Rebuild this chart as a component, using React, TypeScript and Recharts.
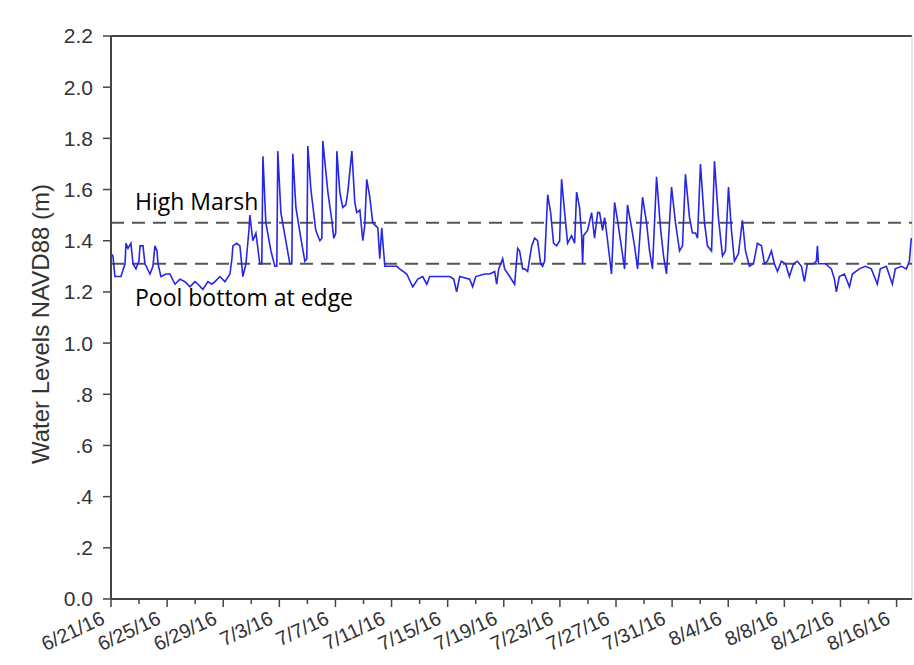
import { LineChart, Line, XAxis, YAxis, ReferenceLine } from 'recharts'

// day offsets from 6/21/16 and water level (m)
const days = [
  0.0, 0.14, 0.28, 0.71, 1.0, 1.07, 1.21, 1.42, 1.57, 1.78, 1.99, 2.07, 2.28, 2.42, 2.78, 2.99, 3.13, 3.28, 3.35, 3.56,
  3.92, 4.2, 4.56, 4.91, 5.27, 5.63, 5.98, 6.2, 6.55, 6.91, 7.19, 7.41, 7.76, 8.12, 8.48, 8.62, 8.69, 8.97, 9.19, 9.4,
  9.62, 9.83, 9.9, 10.11, 10.33, 10.61, 10.75, 10.83, 11.04, 11.4, 11.68, 11.82, 11.89, 12.11, 12.46, 12.75, 12.89, 12.96, 13.18, 13.53,
  13.82, 13.96, 14.03, 14.25, 14.6, 14.89, 15.03, 15.1, 15.46, 15.74, 15.88, 16.02, 16.1, 16.31, 16.52, 16.74, 16.88, 17.17, 17.38, 17.52,
  17.74, 17.95, 18.09, 18.23, 18.45, 18.66, 19.02, 19.16, 19.3, 19.52, 20.37, 20.58, 21.08, 21.51, 21.87, 22.22, 22.51, 22.72, 23.43, 24.15,
  24.43, 24.64, 24.86, 25.57, 25.78, 26.0, 26.64, 27.0, 27.35, 27.49, 27.64, 27.92, 28.06, 28.42, 28.77, 28.99, 29.13, 29.34, 29.49, 29.7,
  29.99, 30.2, 30.41, 30.63, 30.77, 30.91, 31.13, 31.34, 31.55, 31.77, 31.98, 32.12, 32.34, 32.55, 32.83, 33.05, 33.19, 33.4, 33.55, 33.62,
  33.69, 33.97, 34.26, 34.47, 34.69, 34.83, 35.04, 35.19, 35.4, 35.68, 35.9, 36.11, 36.32, 36.61, 36.82, 37.11, 37.32, 37.54, 37.89, 38.18,
  38.39, 38.6, 38.89, 39.17, 39.39, 39.6, 39.96, 40.24, 40.53, 40.74, 40.95, 41.24, 41.45, 41.67, 41.81, 42.02, 42.31, 42.52, 42.81, 43.02,
  43.3, 43.59, 43.8, 44.02, 44.23, 44.44, 44.73, 45.01, 45.23, 45.51, 45.8, 46.08, 46.37, 46.58, 46.79, 47.08, 47.29, 47.51, 47.79, 48.08,
  48.36, 48.65, 48.93, 49.22, 49.43, 49.64, 50.07, 50.28, 50.36, 50.43, 50.93, 51.35, 51.57, 51.71, 51.92, 52.28, 52.64, 52.85, 53.35, 53.77,
  54.2, 54.63, 54.84, 55.27, 55.7, 55.91, 56.34, 56.7, 56.91, 57.05,
]

const levels = [
  1.35, 1.34, 1.26, 1.26, 1.31, 1.39, 1.37, 1.39, 1.31, 1.29, 1.32, 1.38, 1.38, 1.31, 1.27, 1.3, 1.38, 1.36, 1.31, 1.26,
  1.27, 1.27, 1.23, 1.25, 1.24, 1.22, 1.24, 1.23, 1.21, 1.24, 1.23, 1.24, 1.26, 1.24, 1.27, 1.33, 1.38, 1.39, 1.38, 1.26,
  1.31, 1.44, 1.5, 1.4, 1.43, 1.31, 1.31, 1.73, 1.47, 1.36, 1.3, 1.3, 1.75, 1.51, 1.4, 1.31, 1.31, 1.74, 1.53, 1.41,
  1.32, 1.33, 1.77, 1.6, 1.44, 1.4, 1.41, 1.79, 1.59, 1.48, 1.41, 1.43, 1.75, 1.59, 1.53, 1.54, 1.59, 1.75, 1.55, 1.51,
  1.52, 1.4, 1.46, 1.64, 1.57, 1.47, 1.45, 1.33, 1.45, 1.3, 1.3, 1.29, 1.27, 1.22, 1.25, 1.26, 1.23, 1.26, 1.26, 1.26,
  1.25, 1.2, 1.26, 1.25, 1.22, 1.26, 1.27, 1.27, 1.28, 1.23, 1.29, 1.33, 1.29, 1.26, 1.23, 1.37, 1.36, 1.29, 1.29, 1.28,
  1.38, 1.41, 1.4, 1.31, 1.3, 1.32, 1.58, 1.51, 1.39, 1.38, 1.4, 1.64, 1.51, 1.39, 1.42, 1.39, 1.59, 1.53, 1.42, 1.31,
  1.42, 1.44, 1.51, 1.41, 1.51, 1.51, 1.44, 1.49, 1.4, 1.27, 1.55, 1.48, 1.4, 1.29, 1.54, 1.45, 1.38, 1.29, 1.57, 1.47,
  1.36, 1.29, 1.65, 1.45, 1.34, 1.27, 1.61, 1.47, 1.36, 1.38, 1.66, 1.49, 1.43, 1.43, 1.41, 1.7, 1.47, 1.38, 1.36, 1.71,
  1.49, 1.34, 1.36, 1.61, 1.44, 1.32, 1.35, 1.48, 1.36, 1.3, 1.31, 1.39, 1.38, 1.31, 1.32, 1.36, 1.31, 1.28, 1.32, 1.31,
  1.26, 1.31, 1.32, 1.3, 1.24, 1.31, 1.31, 1.32, 1.38, 1.31, 1.31, 1.29, 1.25, 1.2, 1.26, 1.27, 1.22, 1.27, 1.29, 1.3,
  1.29, 1.23, 1.29, 1.3, 1.23, 1.29, 1.3, 1.29, 1.32, 1.41,
]

const majorDays = [0, 4, 8, 12, 16, 20, 24, 28, 32, 36, 40, 44, 48, 52, 56]
const tickLabels = [
  '6/21/16', '6/25/16', '6/29/16', '7/3/16', '7/7/16', '7/11/16', '7/15/16', '7/19/16',
  '7/23/16', '7/27/16', '7/31/16', '8/4/16', '8/8/16', '8/12/16', '8/16/16',
]
const allTicks = [0, 2, 4, 6, 8, 10, 12, 14, 16, 18, 20, 22, 24, 26, 28, 30, 32, 34, 36, 38, 40, 42, 44, 46, 48, 50, 52, 54, 56]
const yTicks = [0, 0.2, 0.4, 0.6, 0.8, 1.0, 1.2, 1.4, 1.6, 1.8, 2.0, 2.2]

const highMarsh = 1.47
const poolBottom = 1.31

const data = days.map((d, i) => ({ day: d, level: levels[i] }))

const AXIS = '#444'
const SANS = '"Liberation Sans", Arial, sans-serif'

const DateTick = (props: { x?: number; y?: number; payload?: { value: number } }) => {
  const { x = 0, y = 0, payload } = props
  const v = payload?.value ?? 0
  const idx = majorDays.indexOf(v)
  const major = idx >= 0
  const tx = x - 5
  const ty = y + 24
  return (
    <g>
      <line x1={x} x2={x} y1={y} y2={y + (major ? 8 : 5)} stroke={AXIS} strokeWidth={1.5} />
      {major && (
        <text
          x={tx}
          y={ty}
          textAnchor="end"
          transform={`rotate(-25, ${tx}, ${ty})`}
          fill="#333"
          fontSize={20}
          fontFamily={SANS}
        >
          {tickLabels[idx]}
        </text>
      )}
    </g>
  )
}

const fmtY = (v: number) => {
  if (v === 0) return '0.0'
  if (v < 1) return v.toFixed(1).slice(1)
  return v.toFixed(1)
}

export default function App() {
  return (
    <div style={{ position: 'absolute', left: 0, top: 0, width: 914, height: 665, background: '#fff' }}>
      <LineChart width={914} height={665} data={data} margin={{ top: 36, right: 2, bottom: 0, left: 0 }}>
        <XAxis
          dataKey="day"
          type="number"
          domain={[0, 57.1]}
          ticks={allTicks}
          interval={0}
          height={66}
          tickSize={0}
          tickMargin={0}
          tickLine={false}
          axisLine={{ stroke: AXIS, strokeWidth: 2 }}
          tick={<DateTick />}
          allowDataOverflow
        />
        <YAxis
          type="number"
          domain={[0, 2.2]}
          ticks={yTicks}
          interval={0}
          width={111}
          tickSize={8}
          tickMargin={10}
          tickFormatter={fmtY}
          axisLine={{ stroke: AXIS, strokeWidth: 2 }}
          tickLine={{ stroke: AXIS, strokeWidth: 1.5 }}
          tick={{ fill: '#333', fontSize: 21, fontFamily: SANS }}
        />
        <ReferenceLine y={2.2} stroke={AXIS} strokeWidth={2} />
        <ReferenceLine x={57.1} stroke="#ccc" strokeWidth={1} />
        <ReferenceLine y={highMarsh} stroke="#555" strokeWidth={2} strokeDasharray="13 8" />
        <ReferenceLine y={poolBottom} stroke="#555" strokeWidth={2} strokeDasharray="13 8" />
        <Line
          type="linear"
          dataKey="level"
          stroke="#2626e6"
          strokeWidth={1.6}
          dot={false}
          isAnimationActive={false}
        />
      </LineChart>
      <svg width={914} height={665} style={{ position: 'absolute', left: 0, top: 0, pointerEvents: 'none' }}>
        <text
          transform="translate(40, 324) rotate(-90)"
          textAnchor="middle"
          dominantBaseline="central"
          fill="#333"
          fontSize={24}
          fontFamily={SANS}
        >
          Water Levels NAVD88 (m)
        </text>
        <text x={135} y={210} fill="#000" fontSize={23} fontFamily='"Open Sans", sans-serif'>
          High Marsh
        </text>
        <text x={135} y={306} fill="#000" fontSize={23} fontFamily='"Open Sans", sans-serif'>
          Pool bottom at edge
        </text>
      </svg>
    </div>
  )
}
